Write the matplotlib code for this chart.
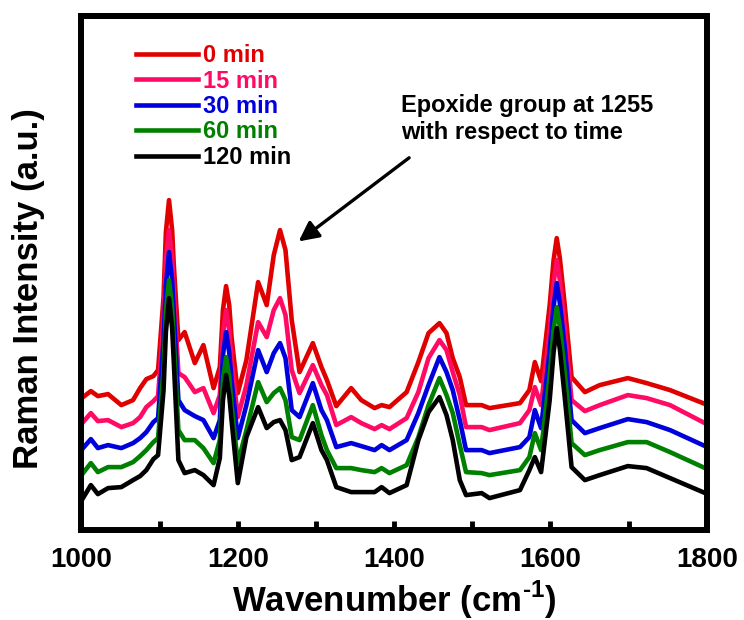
import matplotlib.pyplot as plt

plt.rcParams['font.family'] = ['Liberation Sans', 'DejaVu Sans']
plt.rcParams['font.weight'] = 'bold'
plt.rcParams['mathtext.fontset'] = 'custom'
plt.rcParams['mathtext.rm'] = 'Liberation Sans:bold'
plt.rcParams['mathtext.bf'] = 'Liberation Sans:bold'

# wavenumber points (cm-1)
wavenumber = [1002, 1012, 1021, 1034, 1051, 1066, 1075, 1083, 1092, 1098,
              1105, 1108, 1112, 1116, 1118, 1124, 1132, 1145, 1156, 1169,
              1177, 1181, 1185, 1189, 1192, 1200, 1211, 1226, 1237, 1246,
              1254, 1261, 1269, 1279, 1296, 1307, 1314, 1326, 1345, 1358,
              1375, 1384, 1394, 1416, 1431, 1444, 1458, 1467, 1475, 1484,
              1492, 1512, 1522, 1561, 1573, 1580, 1588, 1599, 1604, 1608,
              1612, 1618, 1627, 1644, 1663, 1699, 1723, 1753, 1795]

# stacked Raman intensities (a.u.)
int_0 = [133, 139, 134, 136, 125, 130, 142, 151, 154, 160,
         233, 298, 330, 300, 267, 190, 198, 167, 185, 142,
         163, 220, 244, 225, 193, 137, 170, 248, 225, 275,
         300, 280, 210, 158, 187, 163, 150, 124, 142, 130,
         122, 125, 123, 138, 168, 197, 207, 197, 172, 153,
         125, 125, 122, 127, 140, 168, 149, 225, 270, 292,
         272, 227, 153, 138, 145, 152, 147, 140, 127]
int_15 = [108, 117, 109, 110, 103, 107, 113, 123, 129, 134,
          210, 270, 300, 272, 240, 157, 153, 138, 142, 117,
          135, 196, 220, 200, 170, 113, 145, 208, 193, 220,
          232, 215, 160, 137, 165, 145, 135, 105, 113, 107,
          101, 105, 101, 112, 138, 172, 190, 180, 158, 135,
          103, 103, 100, 107, 120, 143, 125, 200, 247, 270,
          250, 205, 130, 119, 125, 135, 132, 125, 108]
int_30 = [82, 91, 82, 85, 82, 87, 92, 98, 108, 112,
          190, 245, 278, 250, 220, 130, 120, 114, 110, 92,
          110, 175, 198, 178, 150, 92, 125, 180, 158, 177,
          187, 172, 120, 113, 147, 120, 110, 83, 87, 84,
          80, 85, 80, 90, 117, 145, 173, 158, 140, 110,
          80, 80, 77, 83, 93, 120, 102, 180, 224, 247,
          227, 185, 110, 97, 102, 111, 108, 100, 85]
int_60 = [57, 67, 58, 63, 63, 68, 74, 80, 88, 92,
          160, 218, 250, 222, 190, 100, 90, 90, 82, 67,
          90, 150, 173, 153, 125, 67, 100, 148, 128, 137,
          142, 130, 93, 90, 125, 95, 80, 62, 62, 60,
          58, 62, 57, 65, 93, 125, 152, 135, 117, 85,
          58, 57, 55, 60, 73, 97, 80, 155, 200, 223,
          203, 160, 87, 75, 80, 88, 88, 78, 63]
int_120 = [32, 45, 36, 42, 43, 50, 54, 60, 71, 75,
           140, 198, 232, 202, 170, 70, 57, 60, 55, 45,
           72, 130, 155, 135, 110, 47, 93, 123, 102, 108,
           110, 100, 70, 73, 107, 80, 70, 43, 38, 38,
           38, 43, 37, 45, 90, 118, 133, 115, 90, 50,
           35, 37, 32, 40, 60, 73, 58, 130, 178, 202,
           181, 135, 63, 50, 55, 64, 62, 52, 38]

labels = ['0 min', '15 min', '30 min', '60 min', '120 min']
colors = ['#E00000', '#FF0A64', '#0000DD', '#008000', '#000000']
spectra = [int_0, int_15, int_30, int_60, int_120]

fig = plt.figure(figsize=(7.44, 6.2), dpi=100)
ax = fig.add_axes([0.1095, 0.145, 0.8405, 0.829])

for vals, c, lab in zip(spectra, colors, labels):
    ax.plot(wavenumber, vals, color=c, lw=3.3, label=lab, solid_joinstyle='round')

ax.set_xlim(1000, 1800)
ax.set_ylim(0, 514)
ax.set_xticks(range(1000, 1801, 200))
ax.set_xticks(range(1100, 1800, 200), minor=True)
ax.set_yticks([])
ax.tick_params(axis='x', which='both', direction='in', length=6.5, width=3.5,
               labelsize=20, pad=12)
for lbl in ax.get_xticklabels():
    lbl.set_fontweight('bold')
for sp in ax.spines.values():
    sp.set_linewidth(4.3)

ax.set_xlabel(r'Wavenumber (cm$^{\text{-1}}$)', fontsize=25, fontweight='bold', labelpad=4)
ax.set_ylabel('Raman Intensity (a.u.)', fontsize=25, fontweight='bold')
ax.yaxis.set_label_coords(-0.058, 0.469)

leg = ax.legend(loc='upper left', bbox_to_anchor=(0.0875, 0.945), frameon=False,
                fontsize=17, handlelength=2.6, handletextpad=0.25,
                labelspacing=0.1, borderpad=0, borderaxespad=0,
                labelcolor='linecolor')
for t in leg.get_texts():
    t.set_fontweight('bold')

ax.text(1409, 411, 'Epoxide group at 1255\nwith respect to time', fontsize=17,
        fontweight='bold', ha='left', va='center')
ax.annotate('', xy=(1275, 287), xytext=(1422, 374),
            arrowprops=dict(arrowstyle='-|>', lw=2.4, color='k', mutation_scale=30))

fig.savefig('out.png', dpi=100)
